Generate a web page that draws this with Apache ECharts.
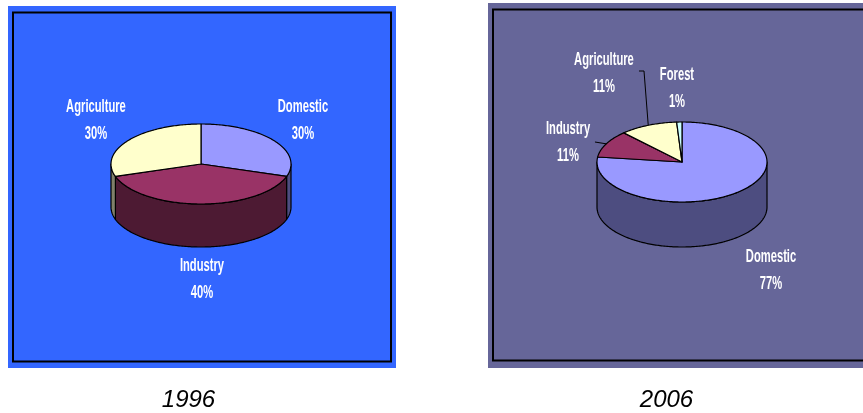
<!DOCTYPE html>
<html>
<head>
<meta charset="utf-8">
<script src="https://cdn.jsdelivr.net/npm/echarts@6/dist/echarts.min.js"></script>
<style>
  html, body { margin: 0; padding: 0; background: #ffffff; }
  #chart { width: 863px; height: 413px; }
</style>
</head>
<body>
<div id="chart"></div>
<script>
// Water use by sector, share of total (%)
const categories1996 = ['Domestic', 'Industry', 'Agriculture'];
const values1996 = [30, 40, 30];
const categories2006 = ['Domestic', 'Industry', 'Agriculture', 'Forest'];
const values2006 = [77, 11, 11, 1];
const yearTitles = ['1996', '2006'];

// Face colours of each sector (top face / visible rim)
const sliceStyle = {
  Domestic:    { top: '#9999FF', side: '#4D4D80' },
  Industry:    { top: '#993366', side: '#4D1A33' },
  Agriculture: { top: '#FFFFCC', side: '#80806A' },
  Forest:      { top: '#CCFFFF', side: '#668080' }
};

// Tall, narrow bold lettering: a regular sans squeezed horizontally
const labelFont = "'Liberation Sans', Arial, sans-serif";

// Each disc lives in its own hidden cartesian grid: x in [-1, 1] spans the
// ellipse width, y = 1 unit per vertical radius, rim thickness below.
const pies = [
  {
    cats: categories1996, vals: values1996,
    grid: { left: 111, top: 124, width: 180, height: 123 }, depth: 1.075,
    labels: { Domestic: [1.133, 1.09], Agriculture: [-1.167, 1.09], Industry: [0.011, -2.875] },
    leaders: {}
  },
  {
    cats: categories2006, vals: values2006,
    grid: { left: 597, top: 122, width: 170, height: 125 }, depth: 1.125,
    labels: { Agriculture: [-0.918, 2.225], Forest: [-0.059, 1.84], Industry: [-1.341, 0.5], Domestic: [1.047, -2.7] },
    leaders: { Agriculture: [[-0.506, 2.275], [-0.447, 2.275]], Industry: [[-1.024, 0.5]] }
  }
];

function sliceAngles(vals) {
  const total = vals.reduce((s, v) => s + v, 0);
  const starts = [], ends = [];
  let acc = 0;
  vals.forEach(v => {
    starts.push(acc / total * 360);
    acc += v;
    ends.push(acc / total * 360);
  });
  return { starts, ends };
}

function makeRender(pie) {
  const { starts, ends } = sliceAngles(pie.vals);
  return function (params, api) {
    const i = params.dataIndex;
    const name = pie.cats[i];
    const a0 = starts[i], a1 = ends[i];
    const st = sliceStyle[name];
    const rad = d => d * Math.PI / 180;
    // angle measured clockwise from 12 o'clock
    const P = (deg, dy) => api.coord([Math.sin(rad(deg)), Math.cos(rad(deg)) + (dy || 0)]);
    const children = [];

    // visible rim (front half only)
    const s0 = Math.max(a0, 90), s1 = Math.min(a1, 270);
    if (s1 > s0) {
      const pts = [];
      for (let d = s0; d < s1; d += 1) pts.push(P(d));
      pts.push(P(s1));
      for (let d = s1; d > s0; d -= 1) pts.push(P(d, -pie.depth));
      pts.push(P(s0, -pie.depth));
      children.push({
        type: 'polygon', z2: 1, shape: { points: pts },
        style: { fill: st.side, stroke: '#000', lineWidth: 1.2, lineJoin: 'round' }
      });
    }

    // top face
    const topPts = [api.coord([0, 0])];
    for (let d = a0; d < a1; d += 1) topPts.push(P(d));
    topPts.push(P(a1));
    children.push({
      type: 'polygon', z2: 2, shape: { points: topPts },
      style: { fill: st.top, stroke: '#000', lineWidth: 1.2, lineJoin: 'round' }
    });

    // leader line to the slice edge
    const lead = pie.leaders[name];
    if (lead) {
      const pts = lead.map(p => api.coord(p));
      pts.push(P((a0 + a1) / 2));
      children.push({
        type: 'polyline', z2: 3, shape: { points: pts },
        style: { fill: null, stroke: '#000', lineWidth: 1 }
      });
    }

    // label
    const lp = api.coord(pie.labels[name]);
    children.push({
      type: 'text', z2: 4, x: lp[0], y: lp[1], scaleX: 0.8, scaleY: 1.36,
      style: {
        text: name + '\n' + api.value(2) + '%',
        fill: '#ffffff',
        fontFamily: labelFont, fontWeight: 'bold', fontSize: 14, lineHeight: 20,
        align: 'center', verticalAlign: 'middle',
        textAlign: 'center', textVerticalAlign: 'middle'
      }
    });

    return { type: 'group', children };
  };
}

const chart = echarts.init(document.getElementById('chart'), null, { renderer: 'canvas' });

const option = {
  animation: false,
  backgroundColor: '#ffffff',
  graphic: [
    { type: 'rect', z: 0, shape: { x: 8, y: 6, width: 388, height: 362 }, style: { fill: '#3366FF' } },
    { type: 'rect', z: 1, shape: { x: 13, y: 12.5, width: 378, height: 349 }, style: { fill: null, stroke: '#000', lineWidth: 2 } },
    { type: 'rect', z: 0, shape: { x: 488, y: 3, width: 380, height: 365 }, style: { fill: '#666699' } },
    { type: 'rect', z: 1, shape: { x: 493, y: 9.5, width: 400, height: 351 }, style: { fill: null, stroke: '#000', lineWidth: 2 } },
    {
      type: 'text', z: 1, x: 188.5, y: 400.5,
      style: { text: yearTitles[0], fill: '#000', fontFamily: "'Liberation Sans', Arial, sans-serif", fontStyle: 'italic', fontSize: 24, align: 'center', verticalAlign: 'middle', textAlign: 'center', textVerticalAlign: 'middle' }
    },
    {
      type: 'text', z: 1, x: 666.5, y: 400.5,
      style: { text: yearTitles[1], fill: '#000', fontFamily: "'Liberation Sans', Arial, sans-serif", fontStyle: 'italic', fontSize: 24, align: 'center', verticalAlign: 'middle', textAlign: 'center', textVerticalAlign: 'middle' }
    }
  ],
  grid: pies.map(p => Object.assign({ show: false, containLabel: false }, p.grid)),
  xAxis: pies.map((p, k) => ({ type: 'value', gridIndex: k, min: -1, max: 1, show: false })),
  yAxis: pies.map((p, k) => ({ type: 'value', gridIndex: k, min: -1 - p.depth, max: 1, show: false })),
  series: pies.map((p, k) => ({
    type: 'custom',
    xAxisIndex: k, yAxisIndex: k,
    z: 5, silent: true, clip: false,
    renderItem: makeRender(p),
    data: p.cats.map((c, i) => ({ name: c, value: [0, 0, p.vals[i]] }))
  }))
};

chart.setOption(option);
</script>
</body>
</html>
